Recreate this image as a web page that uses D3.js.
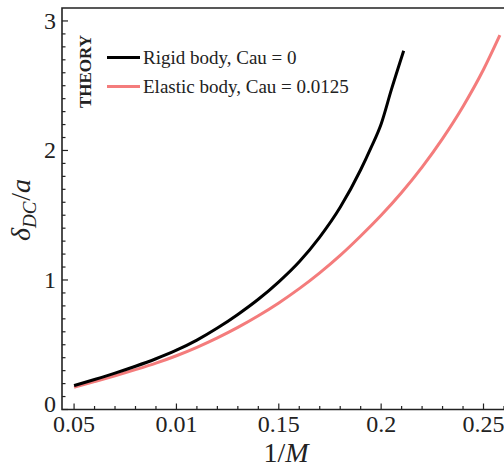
<!DOCTYPE html>
<html>
<head>
<meta charset="utf-8">
<script src="https://cdn.jsdelivr.net/npm/d3@7"></script>
<style>
  body { margin: 0; background: #fff; }
  svg { display: block; font-family: "Liberation Serif", "Times New Roman", serif; }
</style>
</head>
<body>
<svg id="chart" width="504" height="467"></svg>
<script>
// rigid body, Cau = 0
const xRigid = [0.05, 0.06, 0.07, 0.08, 0.09, 0.1, 0.11, 0.12, 0.13, 0.14, 0.15, 0.16, 0.17, 0.18, 0.19, 0.195, 0.2, 0.205, 0.211];
const yRigid = [0.185, 0.232, 0.281, 0.334, 0.392, 0.458, 0.536, 0.629, 0.734, 0.851, 0.986, 1.141, 1.331, 1.561, 1.851, 2.02, 2.205, 2.47, 2.77];

// elastic body, Cau = 0.0125
const xElastic = [0.05, 0.06, 0.07, 0.08, 0.09, 0.1, 0.11, 0.12, 0.13, 0.14, 0.15, 0.16, 0.17, 0.18, 0.19, 0.2, 0.21, 0.22, 0.23, 0.24, 0.25, 0.258];
const yElastic = [0.172, 0.216, 0.261, 0.308, 0.358, 0.415, 0.48, 0.553, 0.634, 0.724, 0.823, 0.933, 1.055, 1.19, 1.34, 1.5, 1.676, 1.872, 2.092, 2.34, 2.625, 2.89];

const xTicks = [0.05, 0.1, 0.15, 0.2, 0.25];
const xTickLabels = ['0.05', '0.01', '0.15', '0.2', '0.25'];
const yTicks = [0, 1, 2, 3];
const seriesNames = ['Rigid body, Cau = 0', 'Elastic body, Cau = 0.0125'];

const svg = d3.select('#chart');
const plot = { left: 62, right: 505, top: 8, bottom: 409.5 };

const x = d3.scaleLinear().domain([0.0441, 0.2605]).range([plot.left, plot.right]);
const y = d3.scaleLinear().domain([0, 3.1]).range([plot.bottom, plot.top]);

const axisColor = '#222';

// frame
svg.append('path')
  .attr('d', `M${plot.right},${plot.top}H${plot.left}V${plot.bottom}H${plot.right}`)
  .attr('fill', 'none')
  .attr('stroke', axisColor)
  .attr('stroke-width', 1.6);

// x ticks (inward), minor every 0.01
const xMinor = d3.range(5, 27).map(d => d / 100);
svg.append('g').selectAll('line')
  .data(xMinor)
  .enter().append('line')
  .attr('x1', d => x(d)).attr('x2', d => x(d))
  .attr('y1', plot.bottom)
  .attr('y2', d => xTicks.some(t => Math.abs(t - d) < 1e-9) ? plot.bottom - 6 : plot.bottom - 3.5)
  .attr('stroke', axisColor).attr('stroke-width', 1.2);

svg.append('g').selectAll('text')
  .data(xTicks)
  .enter().append('text')
  .attr('x', d => x(d))
  .attr('y', 432)
  .attr('text-anchor', 'middle')
  .attr('font-size', 24)
  .attr('fill', '#222')
  .text((d, i) => xTickLabels[i]);

// y ticks (inward), minor every 0.1
const yMinor = d3.range(0, 31).map(d => d / 10);
svg.append('g').selectAll('line')
  .data(yMinor)
  .enter().append('line')
  .attr('y1', d => y(d)).attr('y2', d => y(d))
  .attr('x1', plot.left)
  .attr('x2', d => Math.abs(d - Math.round(d)) < 1e-9 ? plot.left + 6 : plot.left + 3.5)
  .attr('stroke', axisColor).attr('stroke-width', 1.2);

svg.append('g').selectAll('text')
  .data(yTicks)
  .enter().append('text')
  .attr('x', 56)
  .attr('y', d => d === 0 ? y(d) - 5 : y(d))
  .attr('dy', '0.33em')
  .attr('text-anchor', 'end')
  .attr('font-size', 24)
  .attr('fill', '#222')
  .text(d => d);

// axis titles
svg.append('text')
  .attr('x', 286)
  .attr('y', 462)
  .attr('text-anchor', 'middle')
  .attr('font-size', 28)
  .attr('fill', '#222')
  .call(t => {
    t.append('tspan').text('1/');
    t.append('tspan').attr('font-style', 'italic').text('M');
  });

svg.append('text')
  .attr('transform', 'translate(30,210) rotate(-90)')
  .attr('text-anchor', 'middle')
  .attr('font-size', 28)
  .attr('fill', '#222')
  .call(t => {
    t.append('tspan').attr('font-style', 'italic').text('δ');
    t.append('tspan').attr('font-style', 'italic').attr('font-size', 19).attr('dy', 6).text('DC');
    t.append('tspan').attr('dy', -6).attr('dx', 1).text('/');
    t.append('tspan').attr('font-style', 'italic').text('a');
  });

// curves
const line = d3.line()
  .x(d => x(d[0]))
  .y(d => y(d[1]))
  .curve(d3.curveMonotoneX);

const series = [
  { pts: xRigid.map((v, i) => [v, yRigid[i]]), color: '#000000' },
  { pts: xElastic.map((v, i) => [v, yElastic[i]]), color: '#f47c7c' }
];

svg.append('path')
  .datum(series[1].pts)
  .attr('d', line)
  .attr('fill', 'none')
  .attr('stroke', series[1].color)
  .attr('stroke-width', 3);

svg.append('path')
  .datum(series[0].pts)
  .attr('d', line)
  .attr('fill', 'none')
  .attr('stroke', series[0].color)
  .attr('stroke-width', 3);

// legend
const legend = svg.append('g');
series.forEach((s, i) => {
  const ly = 57.5 + i * 29;
  legend.append('line')
    .attr('x1', 107).attr('x2', 140)
    .attr('y1', ly).attr('y2', ly)
    .attr('stroke', s.color).attr('stroke-width', 3);
  legend.append('text')
    .attr('x', 143)
    .attr('y', ly + 6)
    .attr('font-size', 19)
    .attr('fill', '#222')
    .text(seriesNames[i]);
});

svg.append('text')
  .attr('transform', 'translate(91,71.5) rotate(-90)')
  .attr('text-anchor', 'middle')
  .attr('font-size', 17)
  .attr('font-weight', 'bold')
  .attr('fill', '#222')
  .text('THEORY');
</script>
</body>
</html>
